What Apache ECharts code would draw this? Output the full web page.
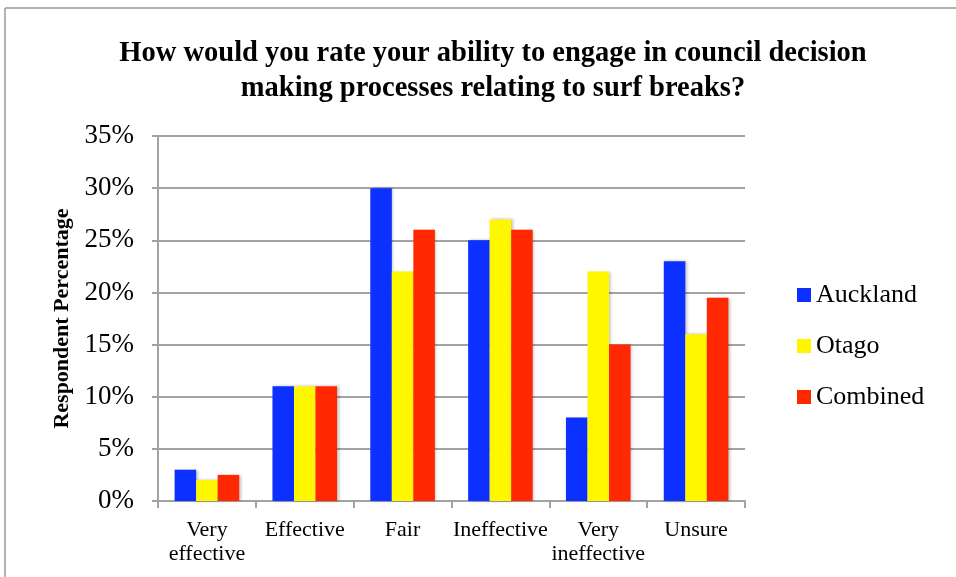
<!DOCTYPE html>
<html>
<head>
<meta charset="utf-8">
<script src="https://cdn.jsdelivr.net/npm/echarts@6/dist/echarts.min.js"></script>
<style>
  html, body { margin: 0; padding: 0; background: #fff; }
  #chart { width: 956px; height: 577px; }
</style>
</head>
<body>
<div id="chart"></div>
<script>
// Survey responses, percent of respondents per rating
const categories = ['Very\neffective', 'Effective', 'Fair', 'Ineffective', 'Very\nineffective', 'Unsure'];
const auckland = [3, 11, 30, 25, 8, 23];
const otago = [2, 11, 22, 27, 22, 16];
const combined = [2.5, 11, 26, 26, 15, 19.5];
const yTicks = { min: 0, max: 35, step: 5 };

const serif = '"Liberation Serif", "DejaVu Serif", serif';
const gridGray = '#a3a3a3';

function barSeries(name, values, color) {
  return {
    name: name,
    type: 'bar',
    data: values,
    barGap: '0%',
    barCategoryGap: '34%',
    itemStyle: {
      color: color,
      shadowColor: 'rgba(0,0,0,0.25)',
      shadowBlur: 3,
      shadowOffsetX: 1.5
    }
  };
}

const chart = echarts.init(document.getElementById('chart'), null, { renderer: 'canvas' });
chart.setOption({
  animation: false,
  backgroundColor: '#fff',
  title: {
    text: 'How would you rate your ability to engage in council decision\nmaking processes relating to surf breaks?',
    left: 488,
    top: 31,
    textAlign: 'center',
    textStyle: {
      fontFamily: serif,
      fontWeight: 'bold',
      fontSize: 28.5,
      lineHeight: 35,
      color: '#000'
    }
  },
  legend: {
    orient: 'vertical',
    left: 792,
    top: 277,
    itemWidth: 14,
    itemHeight: 14,
    itemGap: 25,
    icon: 'rect',
    textStyle: { fontFamily: serif, fontSize: 26, color: '#000' },
    data: ['Auckland', 'Otago', 'Combined']
  },
  grid: { left: 158, right: 211, top: 136, bottom: 76 },
  xAxis: {
    type: 'category',
    data: categories,
    axisLine: { lineStyle: { color: gridGray, width: 2 } },
    axisTick: { show: true, length: 7, lineStyle: { color: gridGray, width: 2 } },
    axisLabel: {
      fontFamily: serif,
      fontSize: 22,
      lineHeight: 24,
      color: '#000',
      margin: 17,
      interval: 0
    }
  },
  yAxis: {
    type: 'value',
    min: yTicks.min,
    max: yTicks.max,
    interval: yTicks.step,
    name: 'Respondent Percentage',
    nameLocation: 'middle',
    nameGap: 84,
    nameRotate: 90,
    nameTextStyle: { fontFamily: serif, fontWeight: 'bold', fontSize: 22, color: '#000' },
    axisLine: { show: true, lineStyle: { color: gridGray, width: 2 } },
    axisTick: { show: true, length: 6, lineStyle: { color: gridGray, width: 2 } },
    axisLabel: {
      fontFamily: serif,
      fontSize: 27,
      color: '#000',
      margin: 24,
      formatter: '{value}%'
    },
    splitLine: { lineStyle: { color: gridGray, width: 2 } }
  },
  series: [
    barSeries('Auckland', auckland, '#0c30ff'),
    barSeries('Otago', otago, '#fff700'),
    barSeries('Combined', combined, '#ff2800')
  ],
  graphic: [
    { type: 'line', shape: { x1: 5, y1: 8, x2: 956, y2: 8 }, style: { stroke: '#9a9a9a', lineWidth: 1.5 } },
    { type: 'line', shape: { x1: 5, y1: 8, x2: 5, y2: 577 }, style: { stroke: '#9a9a9a', lineWidth: 1.5 } }
  ]
});
</script>
</body>
</html>
